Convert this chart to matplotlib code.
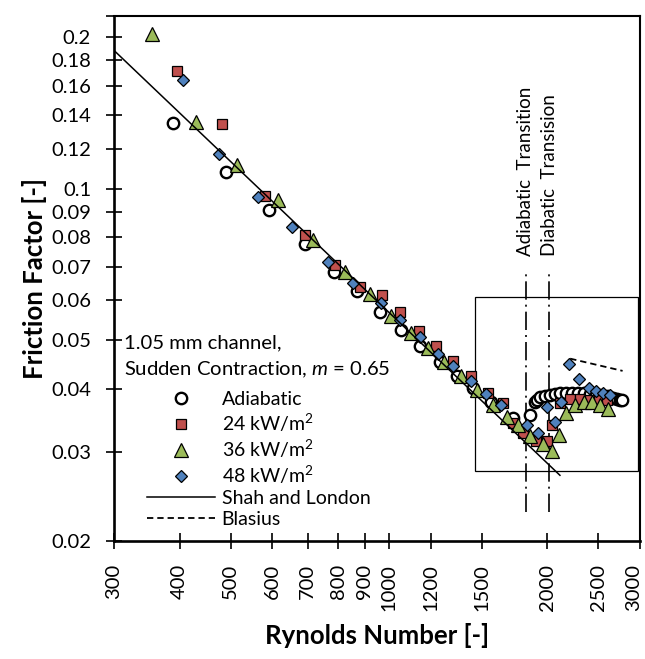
import matplotlib
matplotlib.use("Agg")
import matplotlib.pyplot as plt
from matplotlib.lines import Line2D
from matplotlib.patches import Rectangle
from matplotlib.transforms import ScaledTranslation

plt.rcParams['font.family'] = ['Lato', 'DejaVu Sans']
plt.rcParams['mathtext.fontset'] = 'custom'
plt.rcParams['mathtext.rm'] = 'Lato'
plt.rcParams['mathtext.it'] = 'Lato:italic'

# ---- measured friction factors -------------------------------------------
re_adiabatic = [389, 489, 592, 692, 785, 868, 962, 1052, 1144, 1250, 1345, 1446,
                1565, 1723, 1853, 1892, 1911, 1939, 1982, 2026, 2071, 2117, 2170,
                2230, 2287, 2347, 2410, 2473, 2541, 2607, 2666, 2714, 2748, 2773]
f_adiabatic = [0.135, 0.108, 0.0905, 0.0775, 0.0682, 0.0626, 0.0569, 0.0525,
               0.0487, 0.0453, 0.0425, 0.0402, 0.0378, 0.0351, 0.0355, 0.0378,
               0.0381, 0.0386, 0.0388, 0.0390, 0.0391, 0.0393, 0.0394, 0.0394,
               0.0394, 0.0394, 0.0392, 0.0391, 0.0390, 0.0387, 0.0385, 0.0383,
               0.0381, 0.0381]

re_24 = [396, 481, 581, 692, 789, 880, 968, 1049, 1142, 1228, 1325, 1430, 1544,
         1649, 1723, 1800, 1900, 1999, 2038, 2117, 2211, 2310, 2413, 2504, 2597]
f_24 = [0.171, 0.1343, 0.0965, 0.0808, 0.0707, 0.0639, 0.0616, 0.0568, 0.0521,
        0.0487, 0.0455, 0.0424, 0.0393, 0.0376, 0.0343, 0.0327, 0.0316, 0.0316,
        0.0340, 0.0376, 0.0382, 0.0382, 0.0381, 0.0381, 0.0381]

re_36 = [354, 430, 513, 614, 718, 825, 920, 1009, 1101, 1187, 1272, 1370, 1468,
         1578, 1674, 1761, 1853, 1965, 2038, 2107, 2170, 2260, 2345, 2431, 2521, 2607]
f_36 = [0.203, 0.1357, 0.1115, 0.0948, 0.0790, 0.0683, 0.0617, 0.0560, 0.0516,
        0.0484, 0.0453, 0.0424, 0.0399, 0.0373, 0.0353, 0.0340, 0.0323, 0.0311,
        0.0301, 0.0324, 0.0359, 0.0373, 0.0377, 0.0377, 0.0373, 0.0366]

re_48 = [405, 476, 564, 653, 767, 855, 964, 1051, 1144, 1237, 1325, 1430, 1527,
         1632, 1827, 1917, 1999, 2068, 2126, 2198, 2300, 2395, 2474, 2553, 2634]
f_48 = [0.1645, 0.1174, 0.0963, 0.0839, 0.0714, 0.0651, 0.0593, 0.0548, 0.0507,
        0.0470, 0.0444, 0.0415, 0.0392, 0.0373, 0.0340, 0.0328, 0.0369, 0.0344,
        0.0378, 0.0449, 0.0419, 0.0402, 0.0396, 0.0393, 0.0390]

# ---- correlations ----------------------------------------------------------
re_shah = [300, 2113]
f_shah = [0.188, 0.0270]
re_blasius = [2210, 2780]
f_blasius = [0.0460, 0.0435]

# ---- transition markers and zoom box ---------------------------------------
re_adiabatic_transition = 1820
re_diabatic_transition = 2015
f_transition_span = [0.0228, 0.0690]
zoom_box_re = [1457, 2970]
zoom_box_f = [0.0275, 0.0610]

x_ticks = [300, 400, 500, 600, 700, 800, 900, 1000, 1200, 1500, 2000, 2500, 3000]
y_ticks = [0.02, 0.03, 0.04, 0.05, 0.06, 0.07, 0.08, 0.09, 0.1, 0.12, 0.14,
           0.16, 0.18, 0.2, 0.22]
y_tick_labels = ['0.02', '0.03', '0.04', '0.05', '0.06', '0.07', '0.08', '0.09',
                 '0.1', '0.12', '0.14', '0.16', '0.18', '0.2', '']

RED = '#C0504D'
GREEN = '#9BBB59'
BLUE = '#4F81BD'

W, H = 645, 659
fig = plt.figure(figsize=(W / 100, H / 100), dpi=100)
ax = fig.add_axes([114 / W, 1 - 541 / H, (640 - 114) / W, (541 - 16) / H])
ax.set_xscale('log')
ax.set_yscale('log')
ax.set_xlim(300, 3000)
ax.set_ylim(0.02, 0.22)

ax.plot(re_adiabatic, f_adiabatic, ls='none', marker='o', ms=8.2,
        mfc='white', mec='black', mew=1.7, zorder=3)
ax.plot(re_24, f_24, ls='none', marker='s', ms=7.6,
        mfc=RED, mec='black', mew=0.9, zorder=4)
ax.plot(re_36, f_36, ls='none', marker='^', ms=9.6,
        mfc=GREEN, mec='black', mew=0.9, zorder=5)
ax.plot(re_48, f_48, ls='none', marker='D', ms=6.2,
        mfc=BLUE, mec='black', mew=0.9, zorder=6)
ax.plot(re_shah, f_shah, color='black', lw=1.1, zorder=7)
ax.plot(re_blasius, f_blasius, color='black', lw=1.3, ls=(0, (3.5, 2.2)), zorder=7)

dashdot = (0, (11, 3, 1.2, 3))
for re_t in (re_adiabatic_transition, re_diabatic_transition):
    ax.plot([re_t, re_t], f_transition_span, color='black', lw=1.2, ls=dashdot, zorder=2)
ax.text(re_adiabatic_transition, 0.0735, 'Adiabatic  Transition', rotation=90,
        ha='center', va='bottom', fontsize=13.5)
ax.text(re_diabatic_transition, 0.0735, 'Diabatic  Transision', rotation=90,
        ha='center', va='bottom', fontsize=13.5)

ax.add_patch(Rectangle((zoom_box_re[0], zoom_box_f[0]),
                       zoom_box_re[1] - zoom_box_re[0], zoom_box_f[1] - zoom_box_f[0],
                       fill=False, ec='black', lw=0.9, zorder=1))

ax.set_xticks(x_ticks)
ax.set_xticklabels([str(t) for t in x_ticks], rotation=90, fontsize=14.5)
ax.set_yticks(y_ticks)
ax.set_yticklabels(y_tick_labels, fontsize=14.5)
ax.minorticks_off()
ax.tick_params(axis='both', direction='inout', length=11, width=1.2, colors='black')
ax.tick_params(axis='x', pad=11)
ax.tick_params(axis='y', pad=11)
for side in ('left', 'bottom'):
    ax.spines[side].set_linewidth(1.9)
for side in ('top', 'right'):
    ax.spines[side].set_linewidth(1.5)

# keep the last x label inside the canvas
last = ax.get_xticklabels()[-1]
last.set_transform(last.get_transform() + ScaledTranslation(-0.06, 0, fig.dpi_scale_trans))

ax.set_xlabel('Rynolds Number [-]', fontsize=18.5, fontweight='bold', labelpad=9)
ax.set_ylabel('Friction Factor [-]', fontsize=18.5, fontweight='bold', labelpad=3)

fig.text(124 / W, 1 - 343 / H, '1.05 mm channel,', fontsize=14.6, va='center', ha='left')
fig.text(124 / W, 1 - 370 / H, 'Sudden Contraction, $m$ = 0.65', fontsize=14.6,
         va='center', ha='left')

handles = [
    Line2D([], [], ls='none', marker='o', ms=8.2, mfc='white', mec='black', mew=1.7),
    Line2D([], [], ls='none', marker='s', ms=7.6, mfc=RED, mec='black', mew=0.9),
    Line2D([], [], ls='none', marker='^', ms=9.6, mfc=GREEN, mec='black', mew=0.9),
    Line2D([], [], ls='none', marker='D', ms=6.2, mfc=BLUE, mec='black', mew=0.9),
    Line2D([], [], color='black', lw=1.1),
    Line2D([], [], color='black', lw=1.3, ls=(0, (3.5, 2.2))),
]
labels = ['Adiabatic', '24 kW/m$^2$', '36 kW/m$^2$', '48 kW/m$^2$',
          'Shah and London', 'Blasius']
leg = ax.legend(handles, labels, loc='upper left',
                bbox_to_anchor=(146.7 / W, 1 - 391 / H), bbox_transform=fig.transFigure,
                frameon=False, fontsize=14, handlelength=3.5, handletextpad=0.35,
                labelspacing=0.2, borderpad=0, borderaxespad=0)

fig.savefig('out.png', dpi=100)
